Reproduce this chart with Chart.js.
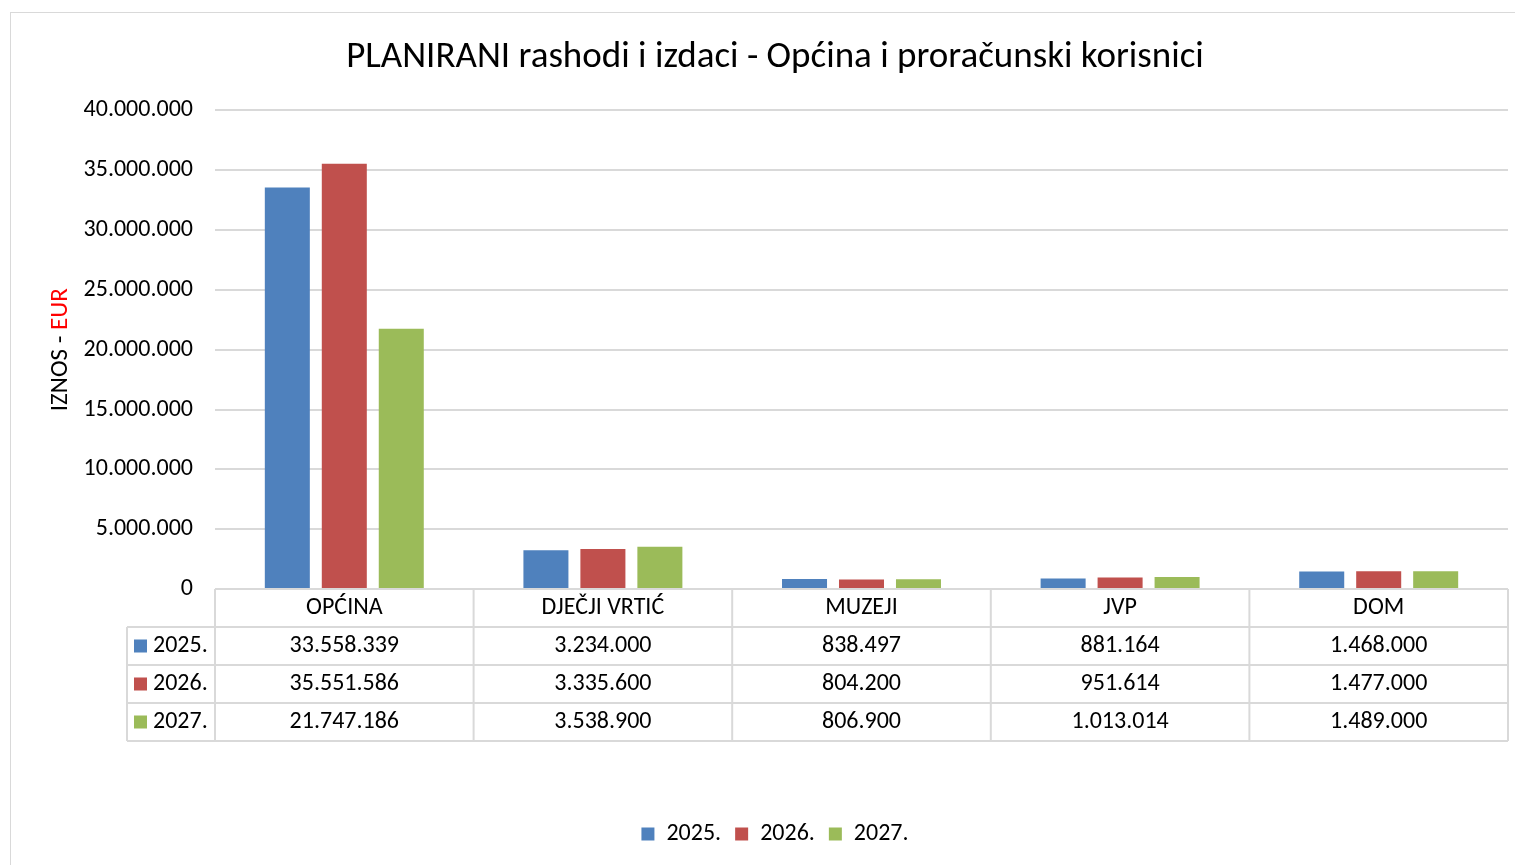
<!DOCTYPE html>
<html>
<head>
<meta charset="utf-8">
<title>PLANIRANI rashodi i izdaci</title>
<script src="https://cdn.jsdelivr.net/npm/chart.js@4.4.1/dist/chart.umd.min.js"></script>
<style>
    html, body { margin: 0; padding: 0; background: #fff; overflow: hidden; }
    /* the chart frame runs a little past the right edge of the window */
    #wrap { position: relative; width: 1550px; height: 865px; }
</style>
</head>
<body>
<div id="wrap"><canvas id="chart"></canvas></div>
<script>
// Planirani rashodi i izdaci po korisnicima, 2025.-2027.
const categories = ['OPĆINA', 'DJEČJI VRTIĆ', 'MUZEJI', 'JVP', 'DOM'];
const years = ['2025.', '2026.', '2027.'];
const values2025 = [33558339, 3234000, 838497, 881164, 1468000];
const values2026 = [35551586, 3335600, 804200, 951614, 1477000];
const values2027 = [21747186, 3538900, 806900, 1013014, 1489000];
const yTicks = [0, 5000000, 10000000, 15000000, 20000000, 25000000, 30000000, 35000000, 40000000];

const colors = ['#4F81BD', '#C0504D', '#9BBB59'];
const FONT = 'Carlito, Lato, "Open Sans", sans-serif';

// 1234567 -> "1.234.567"
function fmt(n) {
    return String(Math.round(n)).replace(/\B(?=(\d{3})+(?!\d))/g, '.');
}

// light frame round the whole chart
const framePlugin = {
    id: 'frame',
    beforeDraw: function (chart) {
        const ctx = chart.ctx;
        ctx.save();
        ctx.strokeStyle = '#d9d9d9';
        ctx.lineWidth = 1;
        ctx.strokeRect(10.5, 12.5, 1600, 1000);
        ctx.restore();
    }
};

// y title in two colours
const yTitlePlugin = {
    id: 'yTitle',
    afterDraw: function (chart) {
        const ctx = chart.ctx;
        const area = chart.chartArea;
        ctx.save();
        ctx.font = '25px ' + FONT;
        const a = 'IZNOS - ', b = 'EUR';
        const wa = ctx.measureText(a).width, wb = ctx.measureText(b).width;
        ctx.translate(61, (area.top + area.bottom) / 2);
        ctx.rotate(-Math.PI / 2);
        ctx.textBaseline = 'middle';
        ctx.textAlign = 'left';
        const start = -(wa + wb) / 2;
        ctx.fillStyle = '#000';
        ctx.fillText(a, start, 0);
        ctx.fillStyle = '#FF0000';
        ctx.fillText(b, start + wa, 0);
        ctx.restore();
    }
};

// data table under the plot
const tablePlugin = {
    id: 'dataTable',
    afterDraw: function (chart) {
        const ctx = chart.ctx;
        const xs = chart.scales.x;
        const top = chart.chartArea.bottom;
        const n = categories.length;
        const colW = (xs.right - xs.left) / n;
        const rowH = 38;
        const labelLeft = 127;
        const series = chart.data.datasets;

        ctx.save();
        ctx.strokeStyle = '#d9d9d9';
        ctx.lineWidth = 2;
        ctx.beginPath();
        for (let r = 0; r <= series.length + 1; r++) {
            const y = top + r * rowH;
            ctx.moveTo(r === 0 ? xs.left : labelLeft, y);
            ctx.lineTo(xs.right, y);
        }
        ctx.moveTo(labelLeft, top + rowH);
        ctx.lineTo(labelLeft, top + (series.length + 1) * rowH);
        for (let i = 0; i <= n; i++) {
            const x = xs.left + i * colW;
            ctx.moveTo(x, top);
            ctx.lineTo(x, top + (series.length + 1) * rowH);
        }
        ctx.stroke();

        ctx.font = '24px ' + FONT;
        ctx.fillStyle = '#000';
        ctx.textBaseline = 'middle';
        ctx.textAlign = 'center';
        categories.forEach(function (c, i) {
            ctx.fillText(c, xs.getPixelForValue(i), top + rowH / 2);
        });

        series.forEach(function (ds, r) {
            const cy = top + (r + 1) * rowH + rowH / 2;
            ctx.fillStyle = ds.backgroundColor;
            ctx.fillRect(134, cy - 6.5, 13, 13);
            ctx.fillStyle = '#000';
            ctx.textAlign = 'left';
            ctx.fillText(ds.label, 153, cy);
            ctx.textAlign = 'center';
            ds.data.forEach(function (v, i) {
                ctx.fillText(fmt(v), xs.getPixelForValue(i), cy);
            });
        });
        ctx.restore();
    }
};

const seriesValues = [values2025, values2026, values2027];

new Chart(document.getElementById('chart'), {
    type: 'bar',
    data: {
        labels: categories,
        datasets: years.map(function (y, i) {
            return {
                label: y,
                data: seriesValues[i],
                backgroundColor: colors[i],
                borderWidth: 0,
                categoryPercentage: 0.661,
                barPercentage: 0.79
            };
        })
    },
    options: {
        responsive: true,
        maintainAspectRatio: false,
        animation: false,
        layout: { padding: { left: 0, right: 0, top: 0, bottom: 9 } },
        plugins: {
            title: {
                display: true,
                text: 'PLANIRANI rashodi i izdaci - Općina i proračunski korisnici',
                color: '#000',
                font: { family: FONT, size: 37, weight: 'normal', lineHeight: 1.2 },
                padding: { top: 36, bottom: 30 }
            },
            legend: {
                position: 'bottom',
                labels: {
                    boxWidth: 13,
                    boxHeight: 13,
                    padding: 14,
                    color: '#000',
                    font: { family: FONT, size: 24 }
                }
            },
            tooltip: {
                callbacks: {
                    label: function (c) { return c.dataset.label + ' ' + fmt(c.parsed.y); }
                }
            }
        },
        scales: {
            x: {
                grid: { display: false },
                border: { display: false },
                ticks: { display: false },
                afterFit: function (scale) { scale.height = 219; }
            },
            y: {
                min: 0,
                max: 40000000,
                afterBuildTicks: function (scale) {
                    scale.ticks = yTicks.map(function (v) { return { value: v }; });
                },
                grid: { color: '#d9d9d9', lineWidth: 2, drawTicks: false },
                border: { display: false },
                ticks: {
                    padding: 22,
                    color: '#000',
                    font: { family: FONT, size: 24 },
                    callback: function (v) { return fmt(v); }
                },
                afterFit: function (scale) { scale.width = 215; }
            },
            // empty right-hand axis, only keeps a margin so title and legend stay centred on the frame
            yRight: {
                position: 'right',
                grid: { display: false },
                border: { display: false },
                ticks: { display: false },
                afterFit: function (scale) { scale.width = 42; }
            }
        }
    },
    plugins: [framePlugin, yTitlePlugin, tablePlugin]
});
</script>
</body>
</html>
